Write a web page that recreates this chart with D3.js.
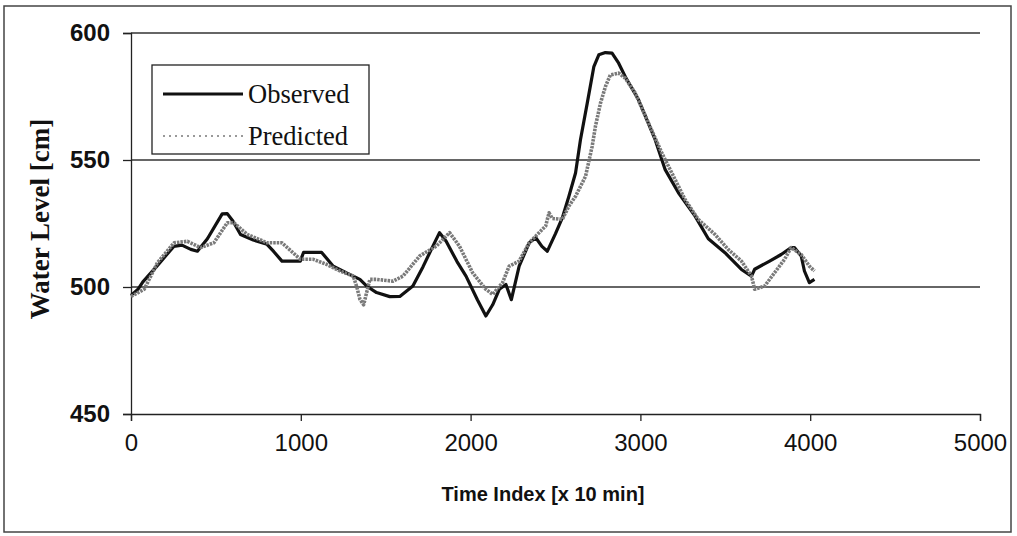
<!DOCTYPE html>
<html>
<head>
<meta charset="utf-8">
<script src="https://cdn.jsdelivr.net/npm/d3@7"></script>
<style>
  html, body { margin: 0; padding: 0; background: #fff; }
  svg { display: block; }
</style>
</head>
<body>
<svg id="chart" width="1017" height="536"></svg>
<script>
// ---- data ----
const xTicks = [0, 1000, 2000, 3000, 4000, 5000];
const yTicks = [450, 500, 550, 600];

const observedTime = [0,40,70,150,252,300,352,391,450,537,567,600,645,720,801,840,889,997,1016,1123,
  1191,1270,1348,1387,1446,1524,1583,1660,1720,1778,1817,1856,1920,1973,2040,2090,2130,2169,2208,2240,
  2286,2345,2384,2420,2452,2500,2540,2579,2618,2647,2687,2726,2755,2794,2833,2872,2911,2989,3087,3146,
  3224,3322,3400,3498,3595,3654,3673,3761,3829,3888,3907,3947,3966,3995,4025];
const observedLevel = [496.7,499,502,508,516,516.5,514.8,514.1,519,528.8,528.9,526,520.7,518.5,516.8,514,510.2,510.2,513.6,513.6,
  508.2,505.5,503,500.4,497.8,496.2,496.3,500.4,508,516.1,521.4,518,510,504.3,495,488.6,493,499.1,501,495,
  508.2,517.4,519.4,516,514.1,521,527.2,535.7,544.9,558,572.4,586.8,591.4,592.3,592.1,588.1,582.8,573.7,558,546.2,
  537.1,527.9,519,513.5,506.9,504.3,507,510.2,512.8,515.5,515.5,512.2,506.3,501.7,503];

const predictedTime = [0,78,156,254,332,410,488,567,606,684,801,889,997,1074,1152,1231,1309,1330,1348,1370,
  1407,1446,1543,1602,1700,1798,1876,1934,2012,2090,2130,2188,2227,2286,2345,2442,2462,2481,2540,2580,
  2618,2677,2716,2735,2765,2794,2823,2872,2911,2970,3048,3126,3185,3263,3341,3439,3517,3595,3654,3673,
  3732,3790,3849,3888,3947,3995,4025];
const predictedLevel = [496.3,499.1,509.6,517.4,518,515.5,517.4,525.3,525.3,520.7,517.4,517.4,510.9,510.9,508.9,506.3,504.3,500,495.2,493,
  503,503,502.3,504.3,512.2,516.1,521.4,516.1,505.6,499.1,497.1,501.7,508.2,510.2,517.4,524,529.2,527,526.6,532,
  535.7,543.6,555.4,563.2,572.4,578.9,583.5,584.2,582.2,576.3,564.5,552.8,544.9,534.4,526.6,520.7,514.8,510.2,504.3,499.1,
  500.4,505.6,510.9,515.5,512.8,508.2,506.3];

const seriesNames = ["Observed", "Predicted"];
const xTitle = "Time Index [x 10 min]";
const yTitle = "Water Level [cm]";

// ---- drawing ----
const svg = d3.select("#chart");
const x = d3.scaleLinear().domain([0, 5000]).range([131, 980]);
const y = d3.scaleLinear().domain([450, 600]).range([414, 33]);

// outer frame
svg.append("rect").attr("x", 4).attr("y", 6).attr("width", 1007).attr("height", 526)
  .attr("fill", "#fff").attr("stroke", "#444").attr("stroke-width", 1.5);

// gridlines
svg.append("g").selectAll("line").data(yTicks.filter(d => d !== 450)).join("line")
  .attr("x1", x(0)).attr("x2", x(5000))
  .attr("y1", d => y(d)).attr("y2", d => y(d))
  .attr("stroke", "#333").attr("stroke-width", 1.3);

// y axis
const yAxis = d3.axisLeft(y).tickValues(yTicks).tickSize(8).tickPadding(13).tickFormat(d3.format("d"));
const gy = svg.append("g").attr("transform", `translate(${x(0)},0)`).call(yAxis);
gy.select(".domain").attr("stroke", "#222").attr("stroke-width", 1.3);
gy.selectAll(".tick line").attr("stroke", "#222").attr("stroke-width", 1.3);
gy.selectAll(".tick text").attr("font-family", "Liberation Sans, Arial, sans-serif")
  .attr("font-size", 24).attr("font-weight", "bold").attr("fill", "#111");

// x axis
const xAxis = d3.axisBottom(x).tickValues(xTicks).tickSize(7).tickPadding(13).tickFormat(d3.format("d"));
const gx = svg.append("g").attr("transform", `translate(0,${y(450)})`).call(xAxis);
gx.select(".domain").attr("stroke", "#222").attr("stroke-width", 1.3);
gx.selectAll(".tick line").attr("stroke", "#222").attr("stroke-width", 1.3);
gx.selectAll(".tick text").attr("font-family", "Liberation Sans, Arial, sans-serif")
  .attr("font-size", 24).attr("fill", "#111");

// axis titles
svg.append("text").text(xTitle)
  .attr("x", 543).attr("y", 501).attr("text-anchor", "middle")
  .attr("font-family", "Liberation Sans, Arial, sans-serif").attr("font-weight", "bold")
  .attr("font-size", 20).attr("fill", "#111");

svg.append("text").text(yTitle)
  .attr("transform", "translate(49,219) rotate(-90)").attr("text-anchor", "middle")
  .attr("font-family", "Liberation Serif, Times New Roman, serif").attr("font-weight", "bold")
  .attr("font-size", 27).attr("fill", "#111");

// lines
const obs = observedTime.map((t, i) => [t, observedLevel[i]]);
const pred = predictedTime.map((t, i) => [t, predictedLevel[i]]);
const line = d3.line().x(d => x(d[0])).y(d => y(d[1])).curve(d3.curveLinear);

svg.append("path").datum(obs).attr("d", line)
  .attr("fill", "none").attr("stroke", "#111").attr("stroke-width", 3.2)
  .attr("stroke-linejoin", "round");
svg.append("path").datum(pred).attr("d", line)
  .attr("fill", "none").attr("stroke", "#7a7a7a").attr("stroke-width", 3.6)
  .attr("stroke-dasharray", "2.5,1").attr("stroke-linejoin", "round");

// legend
const lg = svg.append("g");
lg.append("rect").attr("x", 152).attr("y", 65).attr("width", 217).attr("height", 89)
  .attr("fill", "#fff").attr("stroke", "#222").attr("stroke-width", 1.3);
const legendY = [94, 136];
seriesNames.forEach((name, i) => {
  lg.append("line").attr("x1", 163).attr("x2", 243).attr("y1", legendY[i]).attr("y2", legendY[i])
    .attr("stroke", i === 0 ? "#111" : "#999")
    .attr("stroke-width", i === 0 ? 3 : 2)
    .attr("stroke-dasharray", i === 0 ? null : "2,4");
  lg.append("text").text(name).attr("x", 248).attr("y", legendY[i] + 9)
    .attr("font-family", "Liberation Serif, Times New Roman, serif")
    .attr("font-size", 26.5).attr("fill", "#111");
});
</script>
</body>
</html>
